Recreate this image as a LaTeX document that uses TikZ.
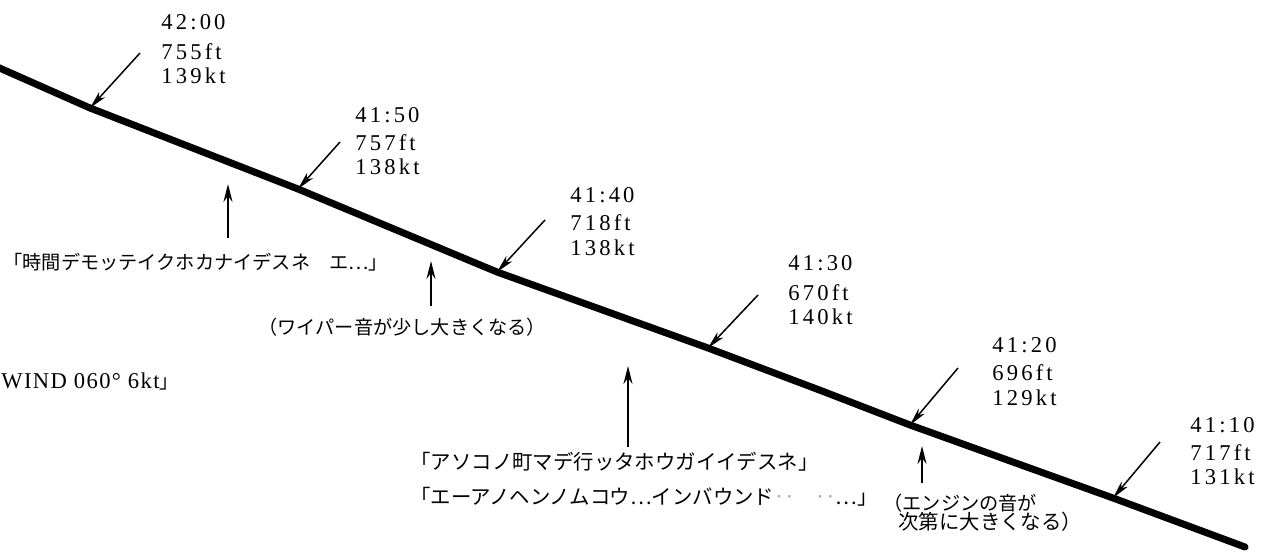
\documentclass[tikz,border=0pt]{standalone}
\usepackage{fontspec}
\setmainfont{Liberation Serif}
\newfontfamily\jpfont{Noto Sans CJK JP}
\newfontfamily\numfont[LetterSpace=14]{Liberation Serif}
\newfontfamily\windfont[LetterSpace=6]{Liberation Serif}
\usetikzlibrary{arrows.meta}
\tikzset{
  track/.style={line width=3.5pt, line join=round, line cap=round},
  marker/.style={line width=0.75pt, -{Stealth[length=9pt,width=4pt,inset=2.5pt]}},
  upmark/.style={line width=1.1pt, -{Stealth[length=9pt,width=4.5pt,inset=3pt]}},
  num/.style={inner sep=0pt, anchor=west, font=\numfont\fontsize{11.3}{13}\selectfont},
  jp/.style={inner sep=0pt, anchor=west, font=\jpfont\fontsize{9.6}{12}\selectfont},
  jpl/.style={inner sep=0pt, anchor=west, font=\jpfont\fontsize{10.2}{12}\selectfont},
}
\begin{document}
\begin{tikzpicture}[x=0.5pt,y=-0.5pt]
\useasboundingbox (0,0) rectangle (1263,555);
\clip (0,0) rectangle (1263,555);
% track
\coordinate (p0) at (-5,66);
\coordinate (p1) at (90,108);
\coordinate (p2) at (298,189);
\coordinate (p3) at (497,272);
\coordinate (p4) at (708,348);
\coordinate (p5) at (822,391);
\coordinate (p6) at (910,425);
\coordinate (p7) at (1113,498);
\coordinate (p8) at (1245,547);
\draw[track] (p0) -- (p1) -- (p2) -- (p3) -- (p4) -- (p5) -- (p6) -- (p7) -- (p8);
% marker starts
\coordinate (s1) at (140,53);
\coordinate (s2) at (340,142);
\coordinate (s3) at (545,220);
\coordinate (s4) at (758,295);
\coordinate (s5) at (958,368);
\coordinate (s6) at (1160,442);
\draw[marker] (s1) -- (p1);
\draw[marker] (s2) -- (p2);
\draw[marker] (s3) -- (p3);
\draw[marker] (s4) -- (p4);
\draw[marker] (s5) -- (p6);
\draw[marker] (s6) -- (p7);
% labels
\node[num] (a1) at (161,22) {42:00};
\node[num] (b1) at (161,52) {755ft};
\node[num] (c1) at (161,76) {139kt};
\node[num] (a2) at (355,115) {41:50};
\node[num] (b2) at (355,143) {757ft};
\node[num] (c2) at (355,167) {138kt};
\node[num] (a3) at (570,195) {41:40};
\node[num] (b3) at (570,223) {718ft};
\node[num] (c3) at (570,248) {138kt};
\node[num] (a4) at (788,263) {41:30};
\node[num] (b4) at (788,293) {670ft};
\node[num] (c4) at (788,317) {140kt};
\node[num] (a5) at (992,345) {41:20};
\node[num] (b5) at (992,373) {696ft};
\node[num] (c5) at (992,398) {129kt};
\node[num] (a6) at (1190,425) {41:10};
\node[num] (b6) at (1190,453) {717ft};
\node[num] (c6) at (1190,477) {131kt};
% remarks
\node[jp] (r1) at (3,262) {「時間デモッテイクホカナイデスネ　エ…」};
\node[jp] (r2) at (258,327) {（ワイパー音が少し大きくなる）};
\node[inner sep=0pt, anchor=west] (r3) at (1,381) {{\windfont\fontsize{11.3}{13}\selectfont WIND 060°\ 6kt}{\jpfont\fontsize{9.6}{12}\selectfont 」}};
\node[jpl] (r4) at (410,462) {「アソコノ町マデ行ッタホウガイイデスネ」};
\node[jpl] (r5) at (410,497) {「エーアノヘンノムコウ…インバウンド{\color{black!35}‥　‥}…」};
\node[jp] (r6) at (883,503) {（エンジンの音が};
\node[jpl] (r7) at (898,522) {次第に大きくなる）};
% up arrows
\coordinate (u1a) at (228,238); \coordinate (u1b) at (228,184);
\coordinate (u2a) at (431,306); \coordinate (u2b) at (431,261);
\coordinate (u3a) at (628,447); \coordinate (u3b) at (628,366);
\coordinate (u4a) at (922,483); \coordinate (u4b) at (922,446);
\draw[upmark] (u1a) -- (u1b);
\draw[upmark] (u2a) -- (u2b);
\draw[upmark] (u3a) -- (u3b);
\draw[upmark] (u4a) -- (u4b);
\end{tikzpicture}
\end{document}
